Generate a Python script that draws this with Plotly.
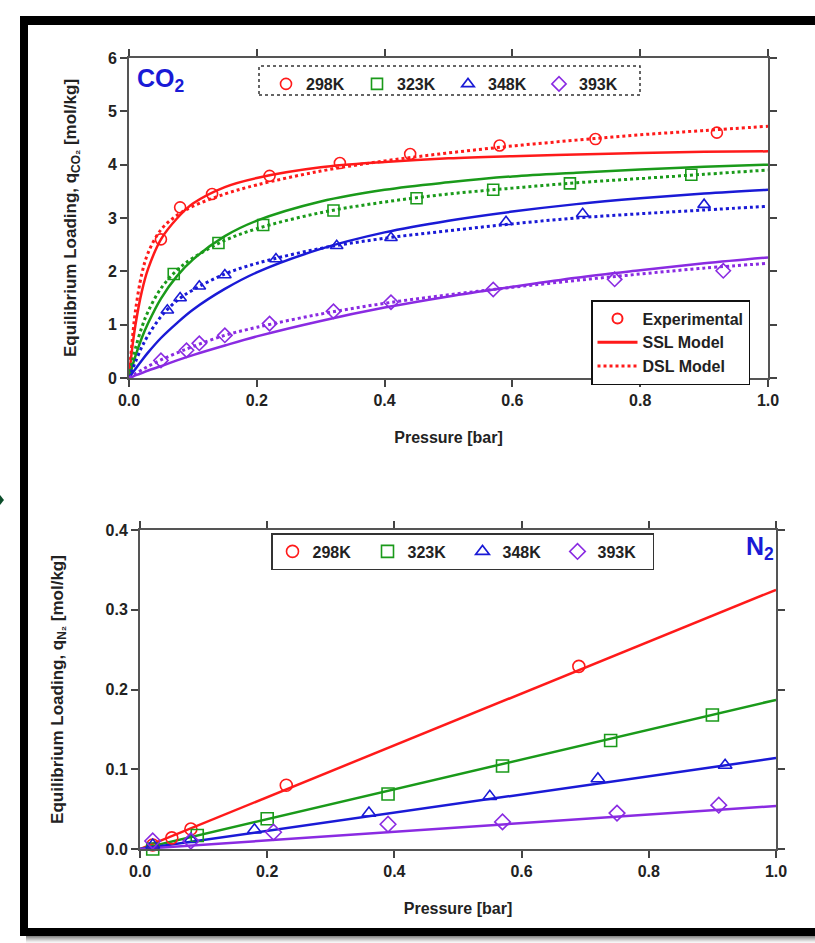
import plotly.graph_objects as go

W, H = 815, 943

# ---------------- CO2 data (top panel) ----------------
temps = ["298K", "323K", "348K", "393K"]
colors = ["#ff1a1a", "#1a9a1a", "#1a1ad6", "#8a2be2"]
symbols = ["circle-open", "square-open", "triangle-up-open", "diamond-open"]

co2_p_298 = [0.05, 0.08, 0.13, 0.22, 0.33, 0.44, 0.58, 0.73, 0.92]
co2_q_298 = [2.60, 3.20, 3.45, 3.79, 4.03, 4.20, 4.36, 4.48, 4.60]
co2_p_323 = [0.07, 0.14, 0.21, 0.32, 0.45, 0.57, 0.69, 0.88]
co2_q_323 = [1.95, 2.53, 2.87, 3.14, 3.37, 3.53, 3.65, 3.81]
co2_p_348 = [0.06, 0.08, 0.11, 0.15, 0.23, 0.325, 0.41, 0.59, 0.71, 0.90]
co2_q_348 = [1.27, 1.50, 1.72, 1.93, 2.23, 2.48, 2.63, 2.93, 3.08, 3.25]
co2_p_393 = [0.05, 0.09, 0.11, 0.15, 0.22, 0.32, 0.41, 0.57, 0.76, 0.93]
co2_q_393 = [0.33, 0.52, 0.65, 0.80, 1.02, 1.25, 1.42, 1.66, 1.85, 2.01]

model_p = [0, 0.005, 0.01, 0.02, 0.03, 0.05, 0.075, 0.1, 0.15, 0.2, 0.3, 0.4, 0.5, 0.6, 0.7, 0.8, 0.9, 1.0]
ssl_298 = [0, 0.56, 0.99, 1.62, 2.05, 2.60, 2.99, 3.27, 3.58, 3.75, 3.95, 4.05, 4.12, 4.16, 4.19, 4.22, 4.24, 4.25]
dsl_298 = [0, 0.70, 1.25, 1.95, 2.35, 2.78, 3.05, 3.22, 3.45, 3.62, 3.88, 4.07, 4.22, 4.35, 4.46, 4.56, 4.64, 4.72]
ssl_323 = [0, 0.21, 0.41, 0.75, 1.03, 1.49, 1.91, 2.22, 2.66, 2.95, 3.31, 3.53, 3.67, 3.78, 3.85, 3.91, 3.96, 4.00]
dsl_323 = [0, 0.30, 0.55, 0.95, 1.25, 1.68, 2.02, 2.25, 2.58, 2.80, 3.10, 3.30, 3.45, 3.56, 3.66, 3.74, 3.82, 3.90]
ssl_348 = [0, 0.09, 0.17, 0.33, 0.48, 0.75, 1.03, 1.28, 1.67, 1.98, 2.42, 2.73, 2.95, 3.12, 3.26, 3.37, 3.46, 3.53]
dsl_348 = [0, 0.15, 0.30, 0.58, 0.80, 1.15, 1.45, 1.65, 1.95, 2.15, 2.43, 2.62, 2.76, 2.89, 3.00, 3.08, 3.15, 3.22]
ssl_393 = [0, 0.02, 0.05, 0.09, 0.14, 0.22, 0.33, 0.43, 0.61, 0.78, 1.07, 1.32, 1.53, 1.71, 1.88, 2.02, 2.15, 2.26]
dsl_393 = [0, 0.04, 0.08, 0.15, 0.22, 0.34, 0.47, 0.59, 0.80, 0.95, 1.20, 1.40, 1.56, 1.70, 1.83, 1.95, 2.06, 2.15]

# ---------------- N2 data (bottom panel) ----------------
n2_p_298 = [0.02, 0.05, 0.08, 0.23, 0.69]
n2_q_298 = [0.005, 0.014, 0.025, 0.080, 0.229]
n2_p_323 = [0.02, 0.09, 0.20, 0.39, 0.57, 0.74, 0.90]
n2_q_323 = [0.000, 0.017, 0.038, 0.069, 0.104, 0.136, 0.168]
n2_p_348 = [0.02, 0.08, 0.18, 0.36, 0.55, 0.72, 0.92]
n2_q_348 = [0.005, 0.012, 0.024, 0.045, 0.066, 0.088, 0.105]
n2_p_393 = [0.02, 0.08, 0.21, 0.39, 0.57, 0.75, 0.91]
n2_q_393 = [0.010, 0.010, 0.021, 0.031, 0.034, 0.045, 0.055]
n2_line_p = [0.0, 1.0]
n2_line_298 = [0.0, 0.325]
n2_line_323 = [0.0, 0.187]
n2_line_348 = [0.0, 0.114]
n2_line_393 = [0.0, 0.054]

co2_exp = [(co2_p_298, co2_q_298), (co2_p_323, co2_q_323), (co2_p_348, co2_q_348), (co2_p_393, co2_q_393)]
ssl = [ssl_298, ssl_323, ssl_348, ssl_393]
dsl = [dsl_298, dsl_323, dsl_348, dsl_393]
n2_exp = [(n2_p_298, n2_q_298), (n2_p_323, n2_q_323), (n2_p_348, n2_q_348), (n2_p_393, n2_q_393)]
n2_lines = [n2_line_298, n2_line_323, n2_line_348, n2_line_393]


def px(x):
    return x / W


def py(y):
    return 1 - y / H


FONT = "Arial"
TXT = "#222222"
fig = go.Figure()

for i in range(4):
    c = colors[i]
    fig.add_trace(go.Scatter(x=model_p, y=ssl[i], mode="lines", line=dict(color=c, width=2.5, shape="spline"),
                             xaxis="x", yaxis="y", showlegend=False, hoverinfo="skip"))
    fig.add_trace(go.Scatter(x=model_p, y=dsl[i], mode="lines", line=dict(color=c, width=3, dash="dot", shape="spline"),
                             xaxis="x", yaxis="y", showlegend=False, hoverinfo="skip"))
for i in range(4):
    c = colors[i]
    fig.add_trace(go.Scatter(x=co2_exp[i][0], y=co2_exp[i][1], mode="markers", name=temps[i],
                             marker=dict(symbol=symbols[i], size=11, color=c, line=dict(width=1.6, color=c)),
                             xaxis="x", yaxis="y", legend="legend", cliponaxis=False))

# model legend (legend2)
fig.add_trace(go.Scatter(x=[None], y=[None], mode="markers", name="Experimental", legend="legend2",
                         marker=dict(symbol="circle-open", size=10, color=colors[0], line=dict(width=2, color=colors[0])),
                         xaxis="x", yaxis="y"))
fig.add_trace(go.Scatter(x=[None], y=[None], mode="lines", name="SSL Model", legend="legend2",
                         line=dict(color=colors[0], width=3), xaxis="x", yaxis="y"))
fig.add_trace(go.Scatter(x=[None], y=[None], mode="lines", name="DSL Model", legend="legend2",
                         line=dict(color=colors[0], width=3, dash="dot"), xaxis="x", yaxis="y"))

for i in range(4):
    c = colors[i]
    fig.add_trace(go.Scatter(x=n2_line_p, y=n2_lines[i], mode="lines", line=dict(color=c, width=2.5),
                             xaxis="x2", yaxis="y2", showlegend=False, hoverinfo="skip"))
for i in range(4):
    c = colors[i]
    fig.add_trace(go.Scatter(x=n2_exp[i][0], y=n2_exp[i][1], mode="markers", name=temps[i],
                             marker=dict(symbol=symbols[i], size=12, color=c, line=dict(width=1.6, color=c)),
                             xaxis="x2", yaxis="y2", legend="legend3", cliponaxis=False))

axis_common = dict(showline=True, linecolor="#555555", linewidth=2, mirror="ticks", ticks="outside",
                   ticklen=7, tickwidth=2, tickcolor="#444444", showgrid=False, zeroline=False, automargin=False,
                   tickfont=dict(family=FONT, size=16, color=TXT, weight="bold"))
title_font = dict(family=FONT, size=16, color=TXT, weight="bold")
ytitle_font = dict(family=FONT, size=17, color=TXT, weight="bold")

fig.update_layout(
    template="none",
    width=W, height=H, margin=dict(l=0, r=0, t=0, b=0, autoexpand=False),
    paper_bgcolor="white", plot_bgcolor="white",
    xaxis=dict(domain=[px(129), px(768)], range=[0, 1], dtick=0.2, tickformat=".1f", anchor="y",
               title=dict(text="Pressure [bar]", font=title_font, standoff=24), **axis_common),
    yaxis=dict(domain=[py(378), py(58)], range=[0, 6], dtick=1, anchor="x",
               title=dict(text="Equilibrium Loading, q<sub>CO₂</sub> [mol/kg]", font=ytitle_font, standoff=27), **axis_common),
    xaxis2=dict(domain=[px(140), px(776)], range=[0, 1], dtick=0.2, tickformat=".1f", anchor="y2",
                title=dict(text="Pressure [bar]", font=title_font, standoff=24), **axis_common),
    yaxis2=dict(domain=[py(849), py(530)], range=[0, 0.4], dtick=0.1, tickformat=".1f", anchor="x2",
                title=dict(text="Equilibrium Loading, q<sub>N₂</sub> [mol/kg]", font=ytitle_font, standoff=38), **axis_common),
    legend=dict(orientation="h", x=px(266), y=py(67), xanchor="left", yanchor="top",
                font=dict(family=FONT, size=16, color=TXT, weight="bold"),
                bgcolor="rgba(0,0,0,0)", borderwidth=0, entrywidth=46, itemwidth=30),
    legend2=dict(orientation="v", x=px(591), y=py(300), xanchor="left", yanchor="top",
                 font=dict(family=FONT, size=16, color=TXT, weight="bold"),
                 bgcolor="white", bordercolor="#111111", borderwidth=1.5, itemwidth=40, tracegroupgap=0),
    legend3=dict(orientation="h", x=px(271), y=py(533), xanchor="left", yanchor="top",
                 font=dict(family=FONT, size=16, color=TXT, weight="bold"),
                 bgcolor="white", bordercolor="#333333", borderwidth=1.5, entrywidth=50, itemwidth=30),
)

shapes = []
# dotted legend box in CO2 panel
shapes.append(dict(type="rect", xref="paper", yref="paper", x0=px(259), x1=px(640), y0=py(95), y1=py(66),
                   line=dict(color="#333333", width=1.5, dash="dot")))
# black frame
shapes.append(dict(type="rect", xref="paper", yref="paper", x0=px(20), x1=px(28), y0=py(936), y1=py(16),
                   fillcolor="black", line=dict(width=0)))
shapes.append(dict(type="rect", xref="paper", yref="paper", x0=px(20), x1=1, y0=py(25), y1=py(16),
                   fillcolor="black", line=dict(width=0)))
shapes.append(dict(type="rect", xref="paper", yref="paper", x0=px(20), x1=1, y0=py(936), y1=py(928),
                   fillcolor="black", line=dict(width=0)))
# shadow under frame
shade = ["#8a8a8a", "#a0a0a0", "#b5b5b5", "#c8c8c8", "#dadada", "#eaeaea", "#f5f5f5"]
for k, col in enumerate(shade):
    shapes.append(dict(type="rect", xref="paper", yref="paper", x0=px(26), x1=1, y0=py(937 + k), y1=py(936 + k),
                       fillcolor=col, line=dict(width=0)))
# small arrow at left edge
shapes.append(dict(type="path", xref="paper", yref="paper",
                   path=f"M {px(0)} {py(495)} L {px(4)} {py(500)} L {px(0)} {py(505)} Z",
                   fillcolor="#0b4d2a", line=dict(width=0)))
fig.update_layout(shapes=shapes)

fig.add_annotation(text="CO<sub>2</sub>", xref="paper", yref="paper", x=px(135), y=py(80), xanchor="left",
                   yanchor="middle", showarrow=False, font=dict(family=FONT, size=25, color="#1a1ad6", weight="bold"))
fig.add_annotation(text="N<sub>2</sub>", xref="paper", yref="paper", x=px(776), y=py(548), xanchor="right",
                   yanchor="middle", showarrow=False, font=dict(family=FONT, size=25, color="#1a1ad6", weight="bold"))

fig.write_html("out.html", config={"displayModeBar": False},
               post_script="document.body.style.margin='0';document.body.style.overflow='hidden';")
